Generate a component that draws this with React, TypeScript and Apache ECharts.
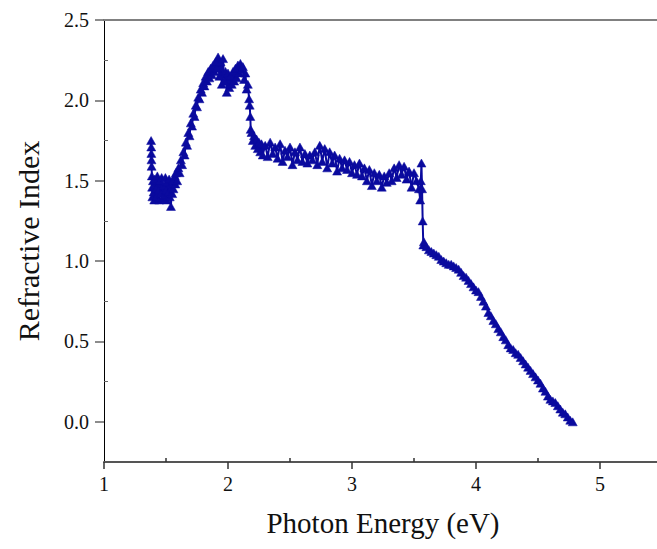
import React, { useEffect, useRef } from "react";
import * as echarts from "echarts";

// Photon energy (eV) and refractive index
const energy = [
  1.380, 1.381, 1.382, 1.383, 1.384, 1.386, 1.388, 1.390, 1.395, 1.400, 1.405, 1.410, 1.420, 1.425, 1.430, 1.440, 1.445, 1.450, 1.460, 1.465,
  1.470, 1.480, 1.490, 1.495, 1.500, 1.505, 1.510, 1.520, 1.525, 1.530, 1.540, 1.545, 1.550, 1.555, 1.560, 1.570, 1.575,
  1.58, 1.59, 1.60, 1.61, 1.62, 1.63, 1.64, 1.65, 1.66, 1.67, 1.68, 1.69, 1.70, 1.71, 1.72, 1.73, 1.74, 1.75, 1.76, 1.77,
  1.78, 1.79, 1.80, 1.81, 1.82, 1.83, 1.84, 1.85, 1.86, 1.87, 1.88, 1.89, 1.90, 1.91, 1.92,
  1.93, 1.94, 1.95, 1.96, 1.97, 1.98, 1.99, 2.00, 2.01, 2.02, 2.03, 2.04, 2.05, 2.06, 2.07, 2.08, 2.09, 2.10, 2.11, 2.12,
  2.13, 2.14, 2.15, 2.16, 2.17, 2.175, 2.18, 2.183,
  2.19, 2.20, 2.21, 2.22, 2.23, 2.24, 2.25, 2.26, 2.27, 2.28, 2.30, 2.32, 2.34, 2.36, 2.38, 2.40, 2.42, 2.44, 2.46, 2.48,
  2.50, 2.52, 2.54, 2.56, 2.58, 2.60, 2.62, 2.64, 2.66, 2.68, 2.70, 2.72, 2.74, 2.76, 2.78, 2.80, 2.82, 2.84, 2.86, 2.88,
  2.90, 2.92, 2.94, 2.96, 2.98, 3.00, 3.02, 3.04, 3.06, 3.08, 3.10, 3.12, 3.14, 3.16, 3.18, 3.20, 3.22, 3.24, 3.26, 3.28,
  3.30, 3.32, 3.34, 3.36, 3.38, 3.40, 3.42, 3.44, 3.46, 3.48, 3.50, 3.52, 3.54, 3.55, 3.555, 3.56, 3.565, 3.57, 3.575,
  3.58, 3.60, 3.62, 3.64, 3.66, 3.68, 3.70, 3.72, 3.74, 3.76, 3.78, 3.80, 3.82, 3.84, 3.86, 3.88, 3.90, 3.92, 3.94, 3.96,
  3.98, 4.00, 4.02, 4.04, 4.06, 4.08, 4.10, 4.12, 4.14, 4.16, 4.18, 4.20, 4.22, 4.24, 4.26, 4.28, 4.30, 4.32, 4.34, 4.36,
  4.38, 4.40, 4.42, 4.44, 4.46, 4.48, 4.50, 4.52, 4.54, 4.56, 4.58, 4.60, 4.62, 4.64, 4.66, 4.68, 4.70, 4.72, 4.74, 4.76, 4.78,
];

const refractive = [
  1.75, 1.71, 1.67, 1.63, 1.59, 1.53, 1.46, 1.40, 1.50, 1.43, 1.38, 1.51, 1.45, 1.40, 1.53, 1.44, 1.38, 1.50, 1.42, 1.52,
  1.39, 1.47, 1.41, 1.52, 1.44, 1.38, 1.49, 1.43, 1.51, 1.40, 1.34, 1.46, 1.42, 1.50, 1.45, 1.53, 1.48,
  1.55, 1.50, 1.58, 1.55, 1.63, 1.60, 1.68, 1.66, 1.74, 1.72, 1.80, 1.78, 1.86, 1.84, 1.92, 1.90, 1.97, 1.96, 2.02, 2.01,
  2.07, 2.05, 2.11, 2.09, 2.15, 2.12, 2.18, 2.14, 2.20, 2.16, 2.22, 2.18, 2.24, 2.20, 2.27,
  2.15, 2.24, 2.10, 2.26, 2.12, 2.18, 2.05, 2.17, 2.08, 2.15, 2.10, 2.18, 2.12, 2.20, 2.14, 2.22, 2.17, 2.23, 2.19, 2.21,
  2.13, 2.17, 2.07, 2.10, 2.01, 1.97, 1.90, 1.82,
  1.80, 1.75, 1.78, 1.72, 1.76, 1.70, 1.74, 1.68, 1.73, 1.66, 1.72, 1.65, 1.74, 1.67, 1.71, 1.64, 1.73, 1.62, 1.69, 1.65,
  1.71, 1.60, 1.68, 1.63, 1.71, 1.62, 1.67, 1.61, 1.66, 1.63, 1.68, 1.60, 1.72, 1.62, 1.70, 1.58, 1.68, 1.61, 1.66, 1.56,
  1.64, 1.58, 1.63, 1.57, 1.62, 1.55, 1.60, 1.54, 1.61, 1.53, 1.58, 1.50, 1.57, 1.47, 1.55, 1.50, 1.54, 1.46, 1.53, 1.49,
  1.55, 1.50, 1.58, 1.52, 1.60, 1.54, 1.59, 1.51, 1.56, 1.46, 1.55, 1.50, 1.45, 1.38, 1.50, 1.61, 1.45, 1.25, 1.10,
  1.12, 1.09, 1.07, 1.06, 1.05, 1.04, 1.03, 1.01, 1.00, 0.99, 0.98, 0.98, 0.97, 0.96, 0.95, 0.93, 0.91, 0.90, 0.88, 0.86,
  0.84, 0.82, 0.81, 0.78, 0.75, 0.72, 0.68, 0.66, 0.63, 0.61, 0.58, 0.56, 0.53, 0.51, 0.48, 0.46, 0.45, 0.43, 0.42, 0.40,
  0.38, 0.36, 0.34, 0.32, 0.30, 0.28, 0.26, 0.24, 0.21, 0.19, 0.16, 0.14, 0.13, 0.12, 0.10, 0.08, 0.06, 0.05, 0.03, 0.01, 0.00,
];

const xMajorTicks = [1, 2, 3, 4, 5];
const xMinorTicks = [1.5, 2.5, 3.5, 4.5];
const yMajorTicks = [0, 0.5, 1.0, 1.5, 2.0, 2.5];
const yMinorTicks = [0.25, 0.75, 1.25, 1.75, 2.25];

const xName = "Photon Energy (eV)";
const yName = "Refractive Index";

const FONT = "'Liberation Serif', 'DejaVu Serif', serif";
const BLUE = "#0A0A9E";

export default function App() {
  const ref = useRef<HTMLDivElement>(null);

  useEffect(() => {
    if (!ref.current) return;
    const chart = echarts.init(ref.current, undefined, { renderer: "svg" });
    const data = energy.map((e, i) => [e, refractive[i]]);
    const xRange = { min: 1, max: 5.5 };
    const yRange = { min: -0.25, max: 2.5 };

    chart.setOption({
      animation: false,
      backgroundColor: "#ffffff",
      grid: { left: 104, right: -5, top: 20, bottom: 87, containLabel: false, outerBoundsMode: "none" },
      xAxis: [
        {
          type: "value",
          ...xRange,
          position: "bottom",
          axisLine: { show: true, onZero: false, lineStyle: { color: "#555555", width: 2 } },
          axisTick: { show: true, inside: false, length: 7, customValues: xMajorTicks, lineStyle: { color: "#333333", width: 1.5 } },
          axisLabel: {
            show: true,
            customValues: xMajorTicks,
            formatter: (v: number) => String(v),
            fontFamily: FONT,
            fontSize: 20,
            color: "#111111",
            margin: 12,
          },
          splitLine: { show: false },
          name: xName,
          nameLocation: "middle",
          nameGap: 46,
          nameTextStyle: { fontFamily: FONT, fontSize: 29, color: "#111111" },
        },
        {
          type: "value",
          ...xRange,
          position: "bottom",
          axisLine: { show: false, onZero: false },
          axisTick: { show: true, inside: true, length: 4, customValues: xMinorTicks, lineStyle: { color: "#333333", width: 1.5 } },
          axisLabel: { show: false },
          splitLine: { show: false },
        },
        {
          type: "value",
          ...xRange,
          position: "top",
          axisLine: { show: true, onZero: false, lineStyle: { color: "#808080", width: 2 } },
          axisTick: { show: false },
          axisLabel: { show: false },
          splitLine: { show: false },
        },
      ],
      yAxis: [
        {
          type: "value",
          ...yRange,
          position: "left",
          axisLine: { show: true, onZero: false, lineStyle: { color: "#000000", width: 1 } },
          axisTick: { show: true, inside: false, length: 9, customValues: yMajorTicks, lineStyle: { color: "#666666", width: 1.5 } },
          axisLabel: {
            show: true,
            customValues: yMajorTicks,
            formatter: (v: number) => v.toFixed(1),
            fontFamily: FONT,
            fontSize: 20,
            color: "#111111",
            margin: 15,
          },
          splitLine: { show: false },
          name: yName,
          nameLocation: "middle",
          nameRotate: 90,
          nameGap: 61,
          nameTextStyle: { fontFamily: FONT, fontSize: 30, color: "#111111" },
        },
        {
          type: "value",
          ...yRange,
          position: "left",
          axisLine: { show: false, onZero: false },
          axisTick: { show: true, inside: true, length: 4, customValues: yMinorTicks, lineStyle: { color: "#666666", width: 1 } },
          axisLabel: { show: false },
          splitLine: { show: false },
        },
      ],
      series: [
        {
          type: "line",
          xAxisIndex: 0,
          yAxisIndex: 0,
          data,
          symbol: "triangle",
          symbolSize: [9, 8],
          showSymbol: true,
          showAllSymbol: true,
          lineStyle: { color: BLUE, width: 2 },
          itemStyle: { color: BLUE, borderColor: BLUE, borderWidth: 0.5 },
          clip: false,
        },
      ],
    });

    return () => chart.dispose();
  }, []);

  return (
    <div
      ref={ref}
      style={{ position: "absolute", left: 0, top: 0, width: 657, height: 549, background: "#fff" }}
    />
  );
}
